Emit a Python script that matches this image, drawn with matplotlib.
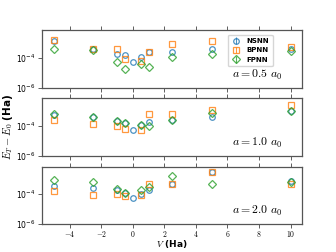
import numpy as np
import matplotlib
matplotlib.use("Agg")
import matplotlib.pyplot as plt
from matplotlib.ticker import FuncFormatter, NullLocator, FixedLocator

plt.rcParams["mathtext.fontset"] = "cm"
plt.rcParams["font.family"] = "DejaVu Sans"

# potential values V (Ha)
V = [-5, -2.5, -1, -0.5, 0, 0.5, 1, 2.5, 5, 10]
V_fp = [-5, -2.5, -1, -0.5, 0.5, 1, 2.5, 5, 10]
V_bp = [-5, -2.5, -1, -0.5, 0.5, 1, 2.5, 5, 10]

spacings = ["0.5", "1.0", "2.0"]

# log10 of E_T - E_0 (Ha)
nsnn = [
    [-2.89, -3.44, -3.78, -3.84, -4.29, -3.93, -3.60, -3.62, -3.44, -3.40],
    [-3.27, -3.38, -3.64, -3.80, -4.29, -3.93, -3.71, -3.62, -3.40, -3.00],
    [-3.45, -3.58, -3.74, -3.93, -4.24, -4.00, -3.69, -3.34, -2.53, -3.12],
]
bpnn = [
    [-2.84, -3.44, -3.44, -4.11, -4.22, -3.60, -3.07, -2.89, -3.27],
    [-3.62, -3.84, -4.00, -4.18, -4.29, -3.22, -3.18, -2.96, -2.62],
    [-3.78, -4.07, -3.98, -4.11, -4.07, -3.30, -3.34, -2.53, -3.34],
]
fpnn = [
    [-3.40, -3.49, -4.29, -4.73, -4.44, -4.62, -3.93, -3.78, -3.56],
    [-3.22, -3.38, -3.69, -3.80, -3.93, -4.00, -3.62, -3.11, -3.00],
    [-3.08, -3.19, -3.67, -3.91, -3.69, -3.52, -2.81, -3.34, -3.19],
]

fig, axes = plt.subplots(3, 1, sharex=True, figsize=(3.36, 2.52), dpi=100)
fig.subplots_adjust(left=0.125, right=0.9, top=0.88, bottom=0.111, hspace=0.19)

style = dict(ls="none", mfc="none", ms=4, mew=0.9, alpha=0.8, elinewidth=0.8)

for i, ax in enumerate(axes):
    ax.errorbar(V, 10 ** np.array(nsnn[i]), yerr=0, fmt="o", color="#1f77b4",
                label="NSNN", **style)
    ax.errorbar(V_bp, 10 ** np.array(bpnn[i]), yerr=0, fmt="s", color="#ff7f0e",
                label="BPNN", **style)
    ax.errorbar(V_fp, 10 ** np.array(fpnn[i]), yerr=0, fmt="D", color="#2ca02c",
                label="FPNN", **dict(style, ms=3.8))
    ax.set_yscale("log")
    ax.set_ylim(1e-6, 7e-3)
    ax.yaxis.set_major_locator(FixedLocator([1e-6, 1e-4, 1e-2]))
    ax.yaxis.set_minor_locator(NullLocator())
    ax.tick_params(axis="both", labelsize=5.5, length=3, width=0.6, pad=1.5,
                   color="#444444")
    ax.tick_params(axis="x", top=True, pad=0.5)
    for s in ax.spines.values():
        s.set_color("#555555")
        s.set_linewidth(0.9)
    ax.text(0.923, 0.1, r"$a = %s\ a_0$" % spacings[i], transform=ax.transAxes,
            ha="right", va="bottom", fontsize=8.5)

axes[2].xaxis.set_major_formatter(FuncFormatter(lambda v, p: r"$%g$" % v))
axes[2].set_xticks([-4, -2, 0, 2, 4, 6, 8, 10])
axes[2].set_xlim(-5.75, 10.75)
axes[2].set_xlabel(r"$V$ (Ha)", fontsize=6.5, fontweight="bold")
axes[2].xaxis.label.set_va("bottom")
axes[2].xaxis.set_label_coords(0.5, -0.46)
axes[1].set_ylabel(r"$E_T - E_0$ (Ha)", fontsize=7.5, fontweight="bold", labelpad=1)

axes[0].legend(loc="upper right", bbox_to_anchor=(0.9, 0.98),
               prop=dict(size=5, weight="bold"),
               handlelength=1.2, handletextpad=1.0, labelspacing=0.45,
               borderpad=0.5, framealpha=0.8)

fig.savefig("out.png", dpi=100)
